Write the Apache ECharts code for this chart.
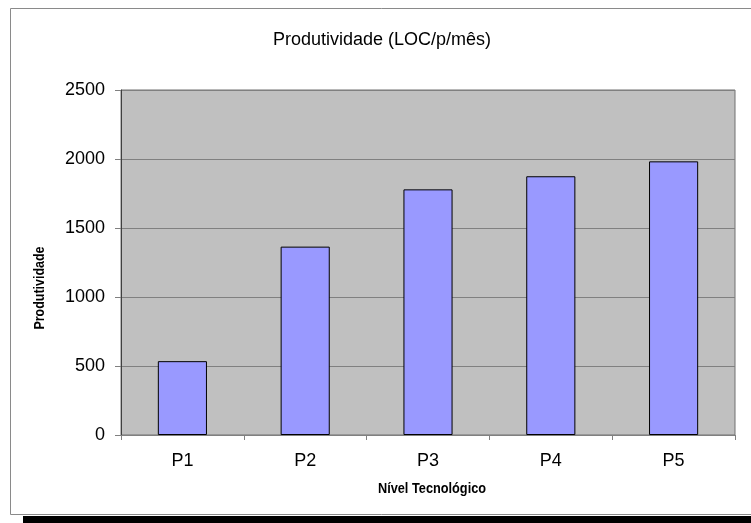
<!DOCTYPE html>
<html>
<head>
<meta charset="utf-8">
<script src="https://cdn.jsdelivr.net/npm/echarts@6/dist/echarts.min.js"></script>
<style>
  html, body { margin: 0; padding: 0; background: #ffffff; }
  #chart { width: 751px; height: 523px; }
</style>
</head>
<body>
<div id="chart"></div>
<script>
// Productivity per technology level
const categories = ['P1', 'P2', 'P3', 'P4', 'P5'];
const produtividade = [535, 1365, 1780, 1875, 1983];
const yTicks = [0, 500, 1000, 1500, 2000, 2500];

const chart = echarts.init(document.getElementById('chart'), null, { renderer: 'canvas' });
const baseFont = 'Liberation Sans, Arial, sans-serif';

chart.setOption({
  backgroundColor: '#ffffff',
  animation: false,
  title: {
    text: 'Produtividade (LOC/p/mês)',
    left: 273,
    top: 31,
    padding: 0,
    textStyle: { fontFamily: baseFont, fontSize: 18, fontWeight: 'normal', color: '#000000' }
  },
  graphic: [
    {
      type: 'rect', z: -10, silent: true,
      shape: { x: 10.5, y: 8.5, width: 760, height: 506 },
      style: { fill: '#ffffff', stroke: '#8a8a8a', lineWidth: 1 }
    },
    {
      type: 'rect', z: -10, silent: true,
      shape: { x: 23, y: 516, width: 740, height: 10 },
      style: { fill: '#000000' }
    },
    {
      // y axis title, condensed bold
      type: 'text', silent: true,
      x: 40, y: 288, rotation: Math.PI / 2, scaleX: 0.89,
      style: {
        text: 'Produtividade', fill: '#000000',
        font: 'bold 14px ' + baseFont,
        align: 'center', verticalAlign: 'middle'
      }
    },
    {
      // x axis title, condensed bold
      type: 'text', silent: true,
      x: 432, y: 489, scaleX: 0.91,
      style: {
        text: 'Nível Tecnológico', fill: '#000000',
        font: 'bold 14px ' + baseFont,
        align: 'center', verticalAlign: 'middle'
      }
    }
  ],
  grid: {
    left: 121, top: 90, width: 614, height: 345,
    show: true, backgroundColor: '#C0C0C0',
    borderColor: '#707070', borderWidth: 1
  },
  xAxis: {
    type: 'category',
    data: categories,
    axisLine: { show: true, lineStyle: { color: '#808080', width: 1 } },
    axisTick: { show: true, alignWithLabel: false, length: 5, lineStyle: { color: '#808080' } },
    axisLabel: { fontFamily: baseFont, fontSize: 18, color: '#000000', margin: 17 },
    splitLine: { show: false }
  },
  yAxis: {
    type: 'value',
    min: yTicks[0],
    max: yTicks[yTicks.length - 1],
    interval: yTicks[1] - yTicks[0],
    axisLine: { show: true, lineStyle: { color: '#404040', width: 1 } },
    axisTick: { show: true, inside: false, length: 6, lineStyle: { color: '#808080' } },
    axisLabel: {
      fontFamily: baseFont, fontSize: 18, color: '#000000', margin: 16,
      formatter: function (v) { return String(v); }
    },
    splitLine: { show: true, lineStyle: { color: '#808080', width: 1 } }
  },
  series: [
    {
      type: 'bar',
      data: produtividade,
      barWidth: '40%',
      itemStyle: { color: '#9999FF', borderColor: '#000000', borderWidth: 1 }
    }
  ]
});
</script>
</body>
</html>
